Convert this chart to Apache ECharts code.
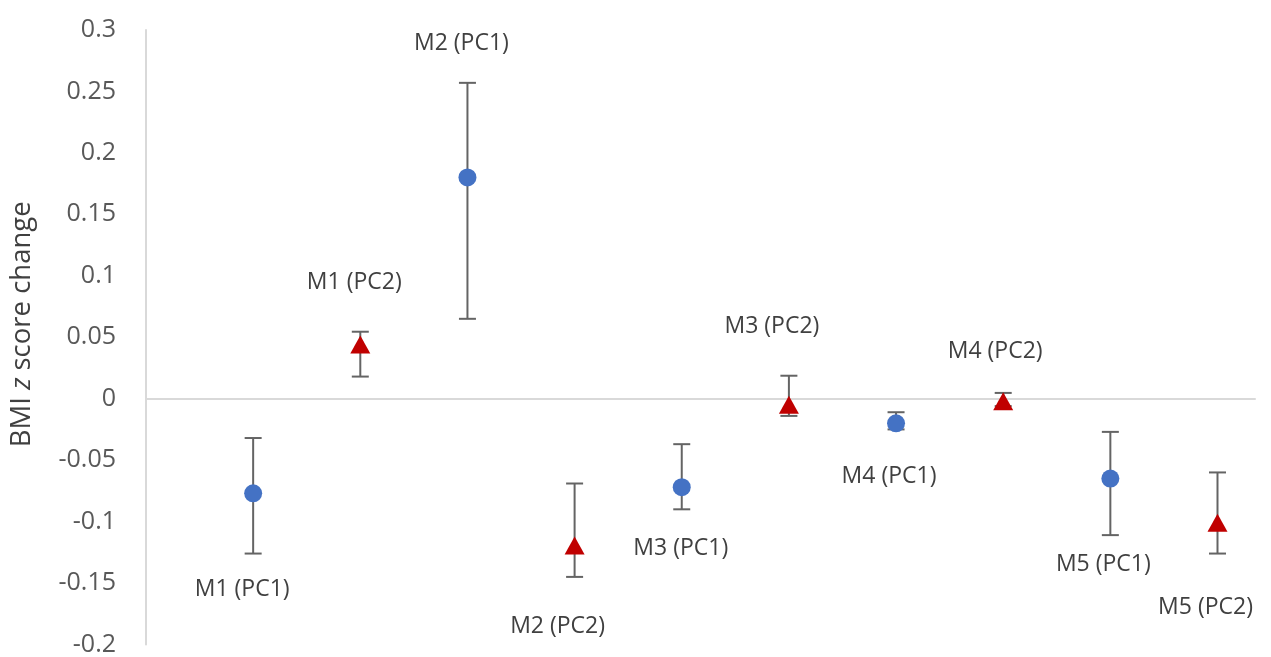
<!DOCTYPE html>
<html>
<head>
<meta charset="utf-8">
<script src="https://cdn.jsdelivr.net/npm/echarts@6/dist/echarts.min.js"></script>
<style>
html,body{margin:0;padding:0;background:#fff;}
#chart{width:1271px;height:657px;}
</style>
</head>
<body>
<div id="chart"></div>
<script>
// ---- data ----
const models = ['M1', 'M2', 'M3', 'M4', 'M5'];
const pc1X = [1, 3, 5, 7, 9];
const pc1Mean = [-0.077, 0.180, -0.072, -0.020, -0.065];
const pc1Upper = [-0.032, 0.257, -0.037, -0.011, -0.027];
const pc1Lower = [-0.126, 0.065, -0.090, -0.025, -0.111];
const pc2X = [2, 4, 6, 8, 10];
const pc2Mean = [0.044, -0.1195, -0.005, -0.002, -0.101];
const pc2Upper = [0.0545, -0.069, 0.0187, 0.0047, -0.060];
const pc2Lower = [0.018, -0.145, -0.014, -0.006, -0.126];
const yTicks = [0.3, 0.25, 0.2, 0.15, 0.1, 0.05, 0, -0.05, -0.1, -0.15, -0.2];

// ---- label placement (pixel offsets from the marker, styling only) ----
const pc1LabelOffsets = [[-11, 96], [-6, -134], [-1, 61], [-7, 53], [-7, 86]];
const pc2LabelOffsets = [[-6, -62], [-17, 81], [-17, -78], [-8, -50], [-12, 85]];

const FONT = '"Open Sans", "Noto Sans", sans-serif';

function pointData(xs, ys, suffix, offsets) {
  return xs.map((x, i) => ({
    value: [x, ys[i]],
    label: { show: true, position: 'inside', offset: offsets[i],
             formatter: models[i] + ' ' + suffix }
  }));
}
function errData(xs, lo, hi) {
  return xs.map((x, i) => [x, lo[i], hi[i]]);
}
function errRender(params, api) {
  const x = api.value(0);
  const lo = api.coord([x, api.value(1)]);
  const hi = api.coord([x, api.value(2)]);
  const hw = 8.5;
  const style = { stroke: '#646464', lineWidth: 2, fill: null };
  return {
    type: 'group',
    children: [
      { type: 'line', shape: { x1: lo[0], y1: lo[1], x2: hi[0], y2: hi[1] }, style },
      { type: 'line', shape: { x1: lo[0] - hw, y1: lo[1], x2: lo[0] + hw, y2: lo[1] }, style },
      { type: 'line', shape: { x1: hi[0] - hw, y1: hi[1], x2: hi[0] + hw, y2: hi[1] }, style }
    ]
  };
}

const labelStyle = { fontFamily: FONT, fontSize: 23, color: '#404040' };

const chart = echarts.init(document.getElementById('chart'));
chart.setOption({
  animation: false,
  grid: { left: 146, right: 16, top: 30, bottom: 12, containLabel: false },
  xAxis: {
    type: 'value', min: 0, max: 10.35,
    axisLine: { show: true, onZero: true, lineStyle: { color: '#d9d9d9', width: 2 } },
    axisTick: { show: false }, axisLabel: { show: false }, splitLine: { show: false }
  },
  yAxis: {
    type: 'value', min: -0.2, max: 0.3, interval: 0.05,
    name: 'BMI {i|z} score change',
    nameLocation: 'middle', nameGap: 110,
    nameTextStyle: { fontFamily: FONT, fontSize: 27.5, color: '#404040', padding: [0, 0, 0, 26],
      rich: { i: { fontStyle: 'italic', fontFamily: FONT, fontSize: 27.5, color: '#404040' } } },
    axisLine: { show: true, lineStyle: { color: '#d9d9d9', width: 2 } },
    axisTick: { show: false },
    splitLine: { show: false },
    axisLabel: {
      fontFamily: FONT, fontSize: 25, color: '#595959', margin: 30,
      formatter: v => {
        const t = yTicks.find(k => Math.abs(k - v) < 1e-9);
        return String(t !== undefined ? t : +v.toFixed(2));
      }
    }
  },
  series: [
    { type: 'custom', renderItem: errRender, data: errData(pc1X, pc1Lower, pc1Upper), z: 1 },
    { type: 'custom', renderItem: errRender, data: errData(pc2X, pc2Lower, pc2Upper), z: 1 },
    {
      type: 'scatter', symbol: 'circle', symbolSize: 18, z: 3,
      itemStyle: { color: '#4472C4', opacity: 1 },
      label: labelStyle,
      data: pointData(pc1X, pc1Mean, '(PC1)', pc1LabelOffsets)
    },
    {
      type: 'scatter', symbol: 'triangle', symbolSize: [20, 18], z: 3,
      itemStyle: { color: '#C00000', opacity: 1 },
      label: labelStyle,
      data: pointData(pc2X, pc2Mean, '(PC2)', pc2LabelOffsets)
    }
  ]
});
</script>
</body>
</html>
